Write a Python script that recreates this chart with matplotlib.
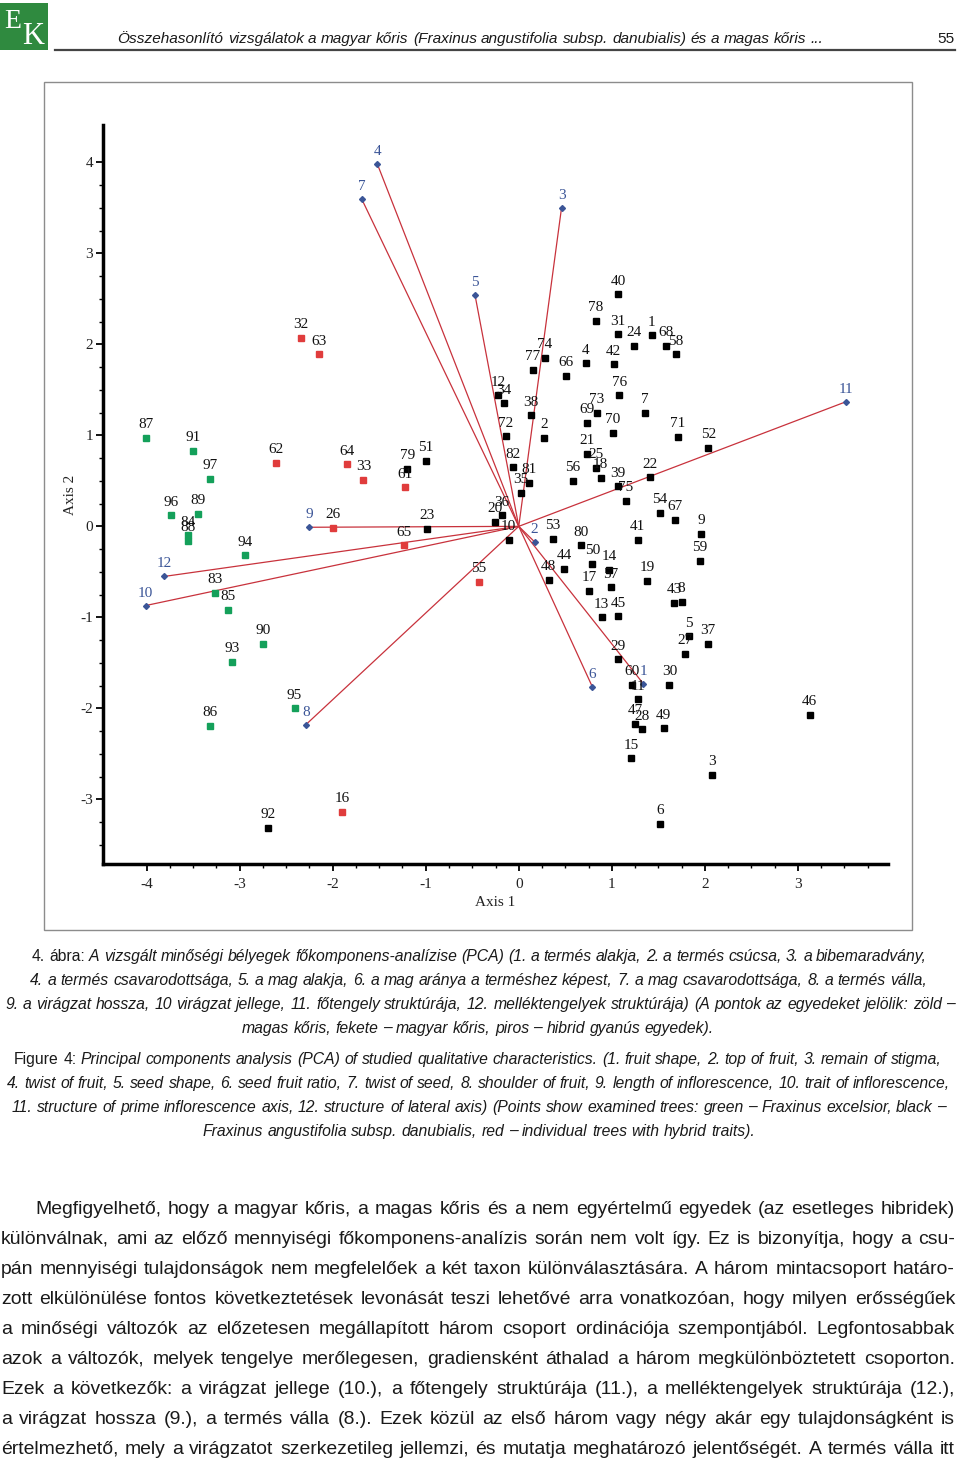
import numpy as np
import matplotlib
matplotlib.use("Agg")
import matplotlib.pyplot as plt
from matplotlib import font_manager
from matplotlib.ticker import FixedLocator
from matplotlib.patches import Rectangle
from matplotlib.lines import Line2D

plt.rcParams["axes.unicode_minus"] = False

# --- adatok (PCA pontok) ---
green_ids = [87, 91, 97, 96, 89, 84, 88, 94, 83, 85, 90, 93, 86, 95]
green_x = [-4.01, -3.50, -3.32, -3.74, -3.45, -3.56, -3.56, -2.94, -3.27, -3.13, -2.75, -3.08, -3.32, -2.41]
green_y = [0.97, 0.83, 0.52, 0.12, 0.14, -0.10, -0.16, -0.32, -0.73, -0.92, -1.29, -1.49, -2.19, -2.00]

red_ids = [32, 63, 62, 64, 33, 26, 61, 65, 55, 16]
red_x = [-2.34, -2.15, -2.61, -1.85, -1.67, -2.00, -1.22, -1.23, -0.43, -1.90]
red_y = [2.07, 1.89, 0.70, 0.68, 0.51, -0.02, 0.43, -0.21, -0.61, -3.14]

black_ids = [1, 2, 3, 4, 5, 6, 7, 8, 9, 10, 11, 12, 13, 14, 15, 17, 18, 19, 20, 21,
             22, 23, 24, 25, 27, 28, 29, 30, 31, 34, 35, 36, 37, 38, 39, 40, 41, 42, 43, 44,
             45, 46, 47, 48, 49, 50, 51, 52, 53, 54, 56, 57, 58, 59, 60, 66, 67, 68, 69, 70,
             71, 72, 73, 74, 75, 76, 77, 78, 79, 80, 81, 82, 92]
black_x = [1.43, 0.27, 2.08, 0.72, 1.83, 1.52, 1.36, 1.75, 1.96, -0.11, 1.28, -0.22, 0.89, 0.97, 1.21, 0.76, 0.88, 1.38, -0.26, 0.73,
           1.41, -0.99, 1.24, 0.83, 1.79, 1.32, 1.07, 1.62, 1.07, -0.16, 0.02, -0.18, 2.03, 0.13, 1.07, 1.07, 1.28, 1.02, 1.67, 0.49,
           1.07, 3.13, 1.25, 0.32, 1.56, 0.79, -1.00, 2.04, 0.37, 1.52, 0.58, 0.99, 1.69, 1.95, 1.22, 0.51, 1.68, 1.58, 0.73, 1.01,
           1.71, -0.14, 0.84, 0.28, 1.15, 1.08, 0.15, 0.83, -1.20, 0.67, 0.11, -0.06, -2.70]
black_y = [2.10, 0.97, -2.73, 1.79, -1.21, -3.27, 1.25, -0.83, -0.08, -0.15, -1.90, 1.44, -1.00, -0.48, -2.55, -0.71, 0.53, -0.60, 0.05, 0.80,
           0.54, -0.03, 1.98, 0.64, -1.40, -2.23, -1.46, -1.74, 2.11, 1.35, 0.37, 0.12, -1.29, 1.22, 0.44, 2.55, -0.15, 1.78, -0.84, -0.47,
           -0.99, -2.07, -2.17, -0.59, -2.22, -0.41, 0.72, 0.86, -0.14, 0.15, 0.50, -0.67, 1.89, -0.38, -1.74, 1.65, 0.07, 1.98, 1.14, 1.03,
           0.98, 0.99, 1.25, 1.85, 0.28, 1.44, 1.72, 2.26, 0.63, -0.21, 0.48, 0.65, -3.31]

# változók vektorai
vec_ids = [1, 2, 3, 4, 5, 6, 7, 8, 9, 10, 11, 12]
vec_x = [1.34, 0.17, 0.46, -1.52, -0.47, 0.79, -1.69, -2.29, -2.25, -4.01, 3.52, -3.81]
vec_y = [-1.73, -0.17, 3.50, 3.98, 2.54, -1.76, 3.60, -2.18, -0.01, -0.87, 1.37, -0.55]

x_ticks = [-4, -3, -2, -1, 0, 1, 2, 3]
y_ticks = [-3, -2, -1, 0, 1, 2, 3, 4]

# --- szövegek ---
header = "Összehasonlító vizsgálatok a magyar kőris (Fraxinus angustifolia subsp. danubialis) és a magas kőris ..."
page_no = "55"
cap_hu = [
    "4. ábra: A vizsgált minőségi bélyegek főkomponens-analízise (PCA) (1. a termés alakja, 2. a termés csúcsa, 3. a bibemaradvány,",
    "4. a termés csavarodottsága, 5. a mag alakja, 6. a mag aránya a terméshez képest, 7. a mag csavarodottsága, 8. a termés válla,",
    "9. a virágzat hossza, 10 virágzat jellege, 11. főtengely struktúrája, 12. melléktengelyek struktúrája) (A pontok az egyedeket jelölik: zöld –",
    "magas kőris, fekete – magyar kőris, piros – hibrid gyanús egyedek).",
]
cap_en = [
    "Figure 4: Principal components analysis (PCA) of studied qualitative characteristics. (1. fruit shape, 2. top of fruit, 3. remain of stigma,",
    "4. twist of fruit, 5. seed shape, 6. seed fruit ratio, 7. twist of seed, 8. shoulder of fruit, 9. length of inflorescence, 10. trait of inflorescence,",
    "11. structure of prime inflorescence axis, 12. structure of lateral axis) (Points show examined trees: green – Fraxinus excelsior, black –",
    "Fraxinus angustifolia subsp. danubialis, red – individual trees with hybrid traits).",
]
body = [
    "Megfigyelhető, hogy a magyar kőris, a magas kőris és a nem egyértelmű egyedek (az esetleges hibridek)",
    "különválnak, ami az előző mennyiségi főkomponens-analízis során nem volt így. Ez is bizonyítja, hogy a csu-",
    "pán mennyiségi tulajdonságok nem megfelelőek a két taxon különválasztására. A három mintacsoport határo-",
    "zott elkülönülése fontos következtetések levonását teszi lehetővé arra vonatkozóan, hogy milyen erősségűek",
    "a minőségi változók az előzetesen megállapított három csoport ordinációja szempontjából. Legfontosabbak",
    "azok a változók, melyek tengelye merőlegesen, gradiensként áthalad a három megkülönböztetett csoporton.",
    "Ezek a következők: a virágzat jellege (10.), a főtengely struktúrája (11.), a melléktengelyek struktúrája (12.),",
    "a virágzat hossza (9.), a termés válla (8.). Ezek közül az első három vagy négy akár egy tulajdonságként is",
    "értelmezhető, mely a virágzatot szerkezetileg jellemzi, és mutatja meghatározó jelentőségét. A termés válla itt",
]

names = {f.name for f in font_manager.fontManager.ttflist}
SANS = "Liberation Sans Narrow" if "Liberation Sans Narrow" in names else "Liberation Sans"
SERIF = "Liberation Serif"

W, H = 960, 1463


def fx(px):
    return px / W


def fy(py):
    return 1 - py / H


fig = plt.figure(figsize=(W / 100, H / 100), dpi=100)
fig.patch.set_facecolor("white")
renderer = fig.canvas.get_renderer()


def text_w(s, size, style="normal", family=SANS):
    t = fig.text(0, 0, s, fontsize=size, fontstyle=style, family=family)
    w = t.get_window_extent(renderer).width
    t.remove()
    return w


def place_line(words, styles, x0, x1, y, size, mode, family=SANS, color="#1a1a1a"):
    widths = [text_w(w, size, s, family) for w, s in zip(words, styles)]
    space = text_w("a a", size, "normal", family) - text_w("aa", size, "normal", family)
    if mode == "justify" and len(words) > 1:
        gap = (x1 - x0 - sum(widths)) / (len(words) - 1)
        x = x0
    else:
        gap = space
        total = sum(widths) + space * (len(words) - 1)
        x = (x0 + x1) / 2 - total / 2
    for w, s, wd in zip(words, styles, widths):
        fig.text(fx(x), fy(y), w, fontsize=size, fontstyle=s, family=family,
                 va="baseline", ha="left", color=color)
        x += wd + gap


def natural_w(line, size, style):
    words = line.split()
    space = text_w("a a", size, "normal") - text_w("aa", size, "normal")
    return sum(text_w(w, size, style) for w in words) + space * (len(words) - 1)


# --- fejléc ---
fig.add_artist(Rectangle((fx(0), fy(50)), fx(48), 47 / H, transform=fig.transFigure,
                         facecolor="#2f8a3f", edgecolor="none"))
fig.text(fx(13), fy(22), "E", fontsize=20, family=SERIF, color="white", ha="center", va="center")
fig.text(fx(33), fy(36), "K", fontsize=22, family=SERIF, color="white", ha="center", va="center")
fig.add_artist(Line2D([fx(55), fx(955)], [fy(50), fy(50)], transform=fig.transFigure,
                      color="#444444", lw=1.6))
hs = 10 * 709 / natural_w(header, 10, "italic")
place_line(header.split(), ["italic"] * len(header.split()), 116, 825, 43, hs, "center")
fig.text(fx(955), fy(43), page_no, fontsize=hs, family=SANS, ha="right", va="baseline", color="#1a1a1a")

# --- ábra kerete ---
fig.add_artist(Rectangle((fx(44), fy(930)), (912 - 44) / W, (930 - 82) / H, transform=fig.transFigure,
                         fill=False, edgecolor="#8c8c8c", lw=1.0))

ax = fig.add_axes([fx(103), fy(864), (888 - 103) / W, (864 - 125) / H])
ax.set_xlim(-4.47, 3.97)
ax.set_ylim(-3.71, 4.41)
for side in ["top", "right"]:
    ax.spines[side].set_visible(False)
for side in ["left", "bottom"]:
    ax.spines[side].set_linewidth(2.5)

ax.xaxis.set_major_locator(FixedLocator(x_ticks))
ax.yaxis.set_major_locator(FixedLocator(y_ticks))
ax.xaxis.set_minor_locator(FixedLocator(np.arange(-4, 3.76, 0.25)))
ax.yaxis.set_minor_locator(FixedLocator(np.arange(-3.5, 4.01, 0.25)))
ax.set_xticklabels([str(t) for t in x_ticks])
ax.set_yticklabels([str(t) for t in y_ticks])
ax.tick_params(which="major", direction="out", length=5, width=1.3, labelsize=11)
ax.tick_params(which="minor", direction="out", length=3, width=1.0)
ax.tick_params(axis="x", pad=5)
ax.tick_params(axis="y", pad=2)
for lab in ax.get_xticklabels() + ax.get_yticklabels():
    lab.set_fontfamily(SERIF)
    lab.set_color("#222222")

# vektorok
for vx, vy in zip(vec_x, vec_y):
    ax.plot([0, vx], [0, vy], color="#c8323c", lw=0.9, zorder=1)
ax.plot(vec_x, vec_y, "D", color="#3b5597", markersize=3, zorder=3, linestyle="none")
for i, vx, vy in zip(vec_ids, vec_x, vec_y):
    ax.annotate(str(i), (vx, vy), xytext=(0, 9), textcoords="offset points",
                ha="center", va="center", fontsize=11, family=SERIF, color="#3b5597")

# pontok
groups = [
    (green_ids, green_x, green_y, "#14a05a"),
    (red_ids, red_x, red_y, "#e03c3c"),
    (black_ids, black_x, black_y, "#000000"),
]
for ids, xs, ys, col in groups:
    ax.plot(xs, ys, "s", color=col, markersize=4.8, linestyle="none", zorder=2)
    for i, px, py in zip(ids, xs, ys):
        ax.annotate(str(i), (px, py), xytext=(0, 9.5), textcoords="offset points",
                    ha="center", va="center", fontsize=11, family=SERIF, color="#111111")

fig.text(fx(495), fy(903), "Axis 1", fontsize=11, family=SERIF, ha="center", va="center", color="#222222")
fig.text(fx(70), fy(495), "Axis 2", fontsize=11, family=SERIF, ha="center", va="center",
         rotation=90, color="#222222")

# --- ábraaláírás ---
cs = 10 * 950 / natural_w(cap_hu[2], 10, "italic")
cap_bounds_hu = [(32, 927), (30, 927), (5, 955), (243, 713)]
cap_bounds_en = [(14, 942), (7, 950), (12, 946), (203, 754)]
cap_y_hu = [961, 985, 1009, 1033]
cap_y_en = [1064, 1088, 1112, 1136]
for k, line in enumerate(cap_hu):
    words = line.split()
    styles = ["italic"] * len(words)
    if k == 0:
        styles[0] = styles[1] = "normal"
    mode = "center" if k == 3 else "justify"
    place_line(words, styles, *cap_bounds_hu[k], cap_y_hu[k], cs, mode)
for k, line in enumerate(cap_en):
    words = line.split()
    styles = ["italic"] * len(words)
    if k == 0:
        styles[0] = styles[1] = "normal"
    mode = "center" if k == 3 else "justify"
    place_line(words, styles, *cap_bounds_en[k], cap_y_en[k], cs, mode)

# --- folyószöveg ---
bs = min(10 * ((955 - 35) if k == 0 else 955) / natural_w(line, 10, "normal")
         for k, line in enumerate(body)) * 0.99
for k, line in enumerate(body):
    words = line.split()
    x0 = 35 if k == 0 else 1
    place_line(words, ["normal"] * len(words), x0, 955, 1214 + 30 * k, bs, "justify")

fig.savefig("out.png", dpi=100, facecolor="white")
